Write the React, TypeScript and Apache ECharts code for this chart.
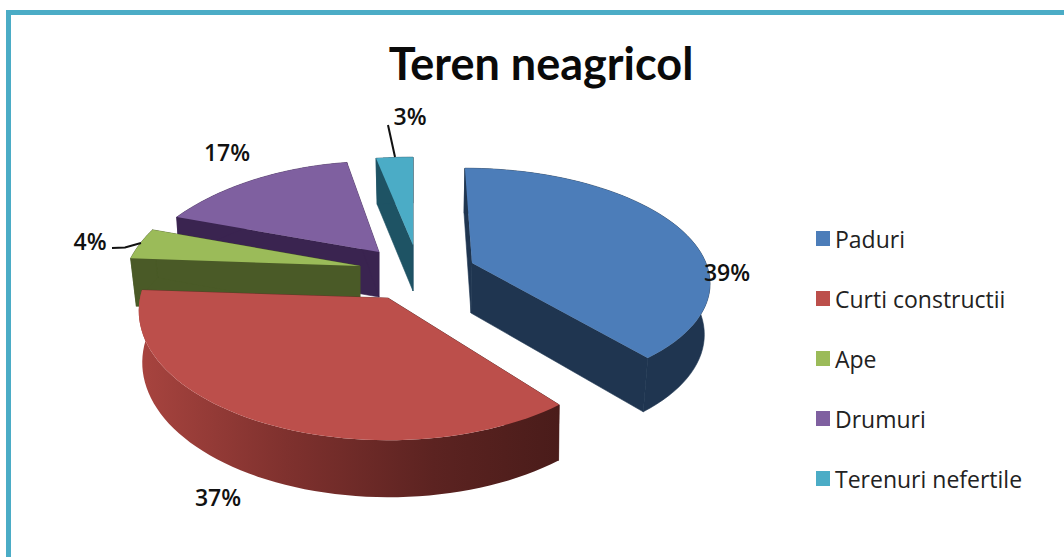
import React, { useEffect, useRef } from "react";
import * as echarts from "echarts";

const categories = ["Paduri", "Curti constructii", "Ape", "Drumuri", "Terenuri nefertile"];
const shares = [39, 37, 4, 17, 3];
const topColors = ["#4C7DB9", "#BC4F4B", "#9BBB59", "#7F60A0", "#4BACC6"];
const sideColors = ["#1F3550", "#6E2A28", "#4A5A27", "#3A2450", "#1E5364"];

// Projection of each exploded slice: apex, radii, perspective, skew, thickness
const slices = [
  { ax: 472, ay: 263, r: 234, rs: 109, k: 0.15, sk: 0.075, d: 50, dv: 5, sh: 0.98, bx: -1, z: 4 },
  { ax: 388, ay: 298, r: 248, rs: 128, k: 0.1, sk: 0, d: 51, dv: 6, sh: 0.99, bx: 1, z: 5 },
  { ax: 360, ay: 266, r: 233, rs: 125, k: 0.22, sk: 0, d: 48, dv: 0, sh: 0.975, bx: 0, z: 3 },
  { ax: 379, ay: 252, r: 239, rs: 127, k: 0.4, sk: 0, d: 45, dv: 0, sh: 0.985, bx: 0, z: 2 },
  { ax: 413, ay: 245, r: 275, rs: 123, k: 0.4, sk: 0, d: 46, dv: 0, sh: 0.97, bx: 0, z: 1 },
];
const labelSpots = [
  [727, 272],
  [218, 497],
  [90, 241],
  [227, 152],
  [410, 116],
];
const leaders: Record<number, number[][]> = {
  2: [[112, 248], [125, 247.5], [141, 243]],
  4: [[388, 125], [395, 157]],
};

const total = shares.reduce((a, b) => a + b, 0);

function project(i: number, deg: number) {
  const g = slices[i];
  const t = (deg * Math.PI) / 180;
  const u = Math.sin(t);
  const v = -Math.cos(t);
  const w = 1 - g.k * v;
  const dy = (g.rs * v) / w;
  const dx = (g.r * u) / w + g.sk * dy;
  return { dx, dy, v };
}
function topPt(i: number, deg: number) {
  const p = project(i, deg);
  return [slices[i].ax + p.dx, slices[i].ay + p.dy];
}
function botPt(i: number, deg: number) {
  const g = slices[i];
  const p = project(i, deg);
  return [g.ax + p.dx * g.sh + g.bx, g.ay + p.dy + g.d + g.dv * p.v];
}

function renderSlice(i: number) {
  return () => {
    const g = slices[i];
    const before = shares.slice(0, i).reduce((a, b) => a + b, 0);
    const a0 = (before / total) * 360;
    const a1 = ((before + shares[i]) / total) * 360;
    const n = 60;
    const angles = Array.from({ length: n + 1 }, (_, j) => a0 + ((a1 - a0) * j) / n);
    const topArc = angles.map((a) => topPt(i, a));
    const botArc = angles.map((a) => botPt(i, a));
    const apexT = [g.ax, g.ay];
    const apexB = [g.ax + g.bx, g.ay + g.d];
    const side = sideColors[i];
    const rimFill: any =
      i === 1
        ? new echarts.graphic.LinearGradient(0, 0, 1, 0, [
            { offset: 0, color: "#A8443F" },
            { offset: 0.35, color: "#7F312E" },
            { offset: 0.7, color: "#5C2321" },
            { offset: 1, color: "#4A1C1A" },
          ])
        : side;
    const wall0 = i === 1 ? "#4A1C1A" : side;
    const children: any[] = [
      { type: "polygon", shape: { points: [apexT, topArc[0], botArc[0], apexB] }, style: { fill: wall0, stroke: wall0, lineWidth: 0.6 } },
      { type: "polygon", shape: { points: [apexT, topArc[n], botArc[n], apexB] }, style: { fill: side, stroke: side, lineWidth: 0.6 } },
      { type: "polygon", shape: { points: [...topArc, ...botArc.slice().reverse()] }, style: { fill: rimFill, stroke: i === 1 ? undefined : side, lineWidth: 0.6 } },
      { type: "polygon", shape: { points: [apexT, ...topArc] }, style: { fill: topColors[i] } },
    ];
    if (leaders[i]) {
      children.push({
        type: "polyline",
        shape: { points: leaders[i] },
        style: { stroke: "#111", lineWidth: 2, fill: "none" },
      });
    }
    children.push({
      type: "text",
      style: {
        x: labelSpots[i][0],
        y: labelSpots[i][1],
        text: shares[i] + "%",
        fill: "#111",
        font: '600 23px "Open Sans"',
        align: "center",
        verticalAlign: "middle",
      },
    });
    return { type: "group", children };
  };
}

export default function App() {
  const ref = useRef<HTMLDivElement>(null);
  useEffect(() => {
    const chart = echarts.init(ref.current!, null, { renderer: "svg" });
    chart.setOption({
      animation: false,
      backgroundColor: "#ffffff",
      title: {
        text: "Teren neagricol",
        left: 536,
        top: 35,
        textAlign: "center",
        textStyle: { fontFamily: "Lato", fontWeight: "bold", fontSize: 45, color: "#0a0a0a" },
      },
      legend: {
        data: categories,
        orient: "vertical",
        left: 811,
        top: 222,
        itemWidth: 14,
        itemHeight: 15,
        itemGap: 37,
        icon: "rect",
        textStyle: { fontFamily: "Open Sans", fontSize: 23, color: "#222", lineHeight: 23 },
      },
      graphic: [
        {
          type: "rect",
          silent: true,
          shape: { x: 8.5, y: 12.5, width: 1300, height: 700 },
          style: { fill: "none", stroke: "#4BACC6", lineWidth: 5 },
        },
      ],
      series: categories.map((name, i) => ({
        type: "custom",
        name,
        z: slices[i].z,
        coordinateSystem: "none",
        itemStyle: { color: topColors[i] },
        data: [shares[i]],
        renderItem: renderSlice(i),
      })),
    });
    return () => chart.dispose();
  }, []);
  return <div ref={ref} style={{ position: "absolute", left: 0, top: 0, width: 1064, height: 557 }} />;
}
